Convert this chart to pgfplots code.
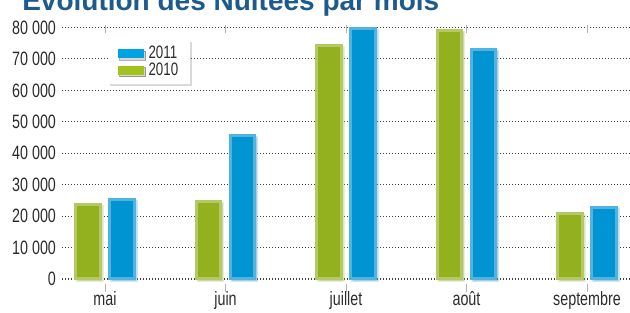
\documentclass[border=0pt]{standalone}
\usepackage{pgfplots}
\pgfplotsset{compat=1.18}
\usepackage{fontspec}
\setmainfont[FakeStretch=0.74]{Liberation Sans}
\newfontfamily\titlefont{Liberation Sans}
\usetikzlibrary{shadows}
\definecolor{gmain}{HTML}{93B11F}
\definecolor{grim}{HTML}{B4C965}
\definecolor{bmain}{HTML}{0095D2}
\definecolor{brim}{HTML}{52B3E0}
\definecolor{lblue}{HTML}{00A3E2}
\definecolor{lgreen}{HTML}{A2C31E}
\definecolor{titleblue}{HTML}{1D5B8C}
\definecolor{txt}{HTML}{2B2B2B}
\begin{document}
\begin{tikzpicture}
\path[use as bounding box, clip] (0,0) rectangle (472.5pt,234.75pt);
\node[anchor=base west, font=\titlefont\bfseries\fontsize{21}{25}\selectfont, text=titleblue, inner sep=0pt] at (16.5pt,226.5pt) {Évolution des Nuitées par mois};
\begin{axis}[
  at={(46.5pt,25.5pt)}, anchor=south west,
  scale only axis, width=426pt, height=188.6pt,
  xmin=-0.357, xmax=4.357, ymin=0, ymax=80000,
  clip=false,
  axis line style={draw=none},
  xtick={0,1,2,3,4},
  xticklabels={mai,juin,juillet,août,septembre},
  ytick={0,10000,...,80000},
  scaled y ticks=false,
  /pgf/number format/assume math mode=true,
  /pgf/number format/1000 sep={\ },
  tick label style={font=\fontsize{14.5}{16}\selectfont, text=txt},
  ytick style={draw=none},
  tick align=outside,
  major tick length=6pt,
  xtick style={draw=gray!60, line width=0.6pt, yshift=-3.75pt},
  xticklabel style={anchor=base, yshift=-14pt},
  yticklabel style={xshift=5pt},
  ymajorgrids,
  major grid style={dash pattern=on 0.8pt off 1.45pt, line width=0.8pt, gray!50!black},
  legend image code/.code={\fill[#1, draw=none] (0pt,-3.4pt) rectangle (19.5pt,3.4pt); \path (21pt,0pt);},
  legend style={at={(0.081,0.95)}, anchor=north west, fill=white, draw=none,
    drop shadow={shadow xshift=1.5pt, shadow yshift=-1.5pt, opacity=0.3},
    font=\fontsize{13.5}{13.5}\selectfont, text=txt,
    inner xsep=7pt, inner ysep=2.5pt, row sep=-2.5pt, cells={anchor=west}},
]
\addplot[ybar, forget plot, bar width=18.4pt, bar shift=-12.75pt,
  fill=gmain, draw=grim, line width=2.25pt,
  drop shadow={shadow xshift=1.5pt, shadow yshift=-1.5pt, opacity=0.3}]
  coordinates {(0,23800) (1,24700) (2,74300) (3,79100) (4,20900)};
\addplot[ybar, forget plot, bar width=18.4pt, bar shift=12.75pt,
  fill=bmain, draw=brim, line width=2.25pt,
  drop shadow={shadow xshift=1.5pt, shadow yshift=-1.5pt, opacity=0.3}]
  coordinates {(0,25300) (1,45700) (2,79600) (3,73100) (4,22800)};
\addlegendimage{fill=lblue}
\addlegendentry{2011}
\addlegendimage{fill=lgreen}
\addlegendentry{2010}
\end{axis}
\end{tikzpicture}
\end{document}
